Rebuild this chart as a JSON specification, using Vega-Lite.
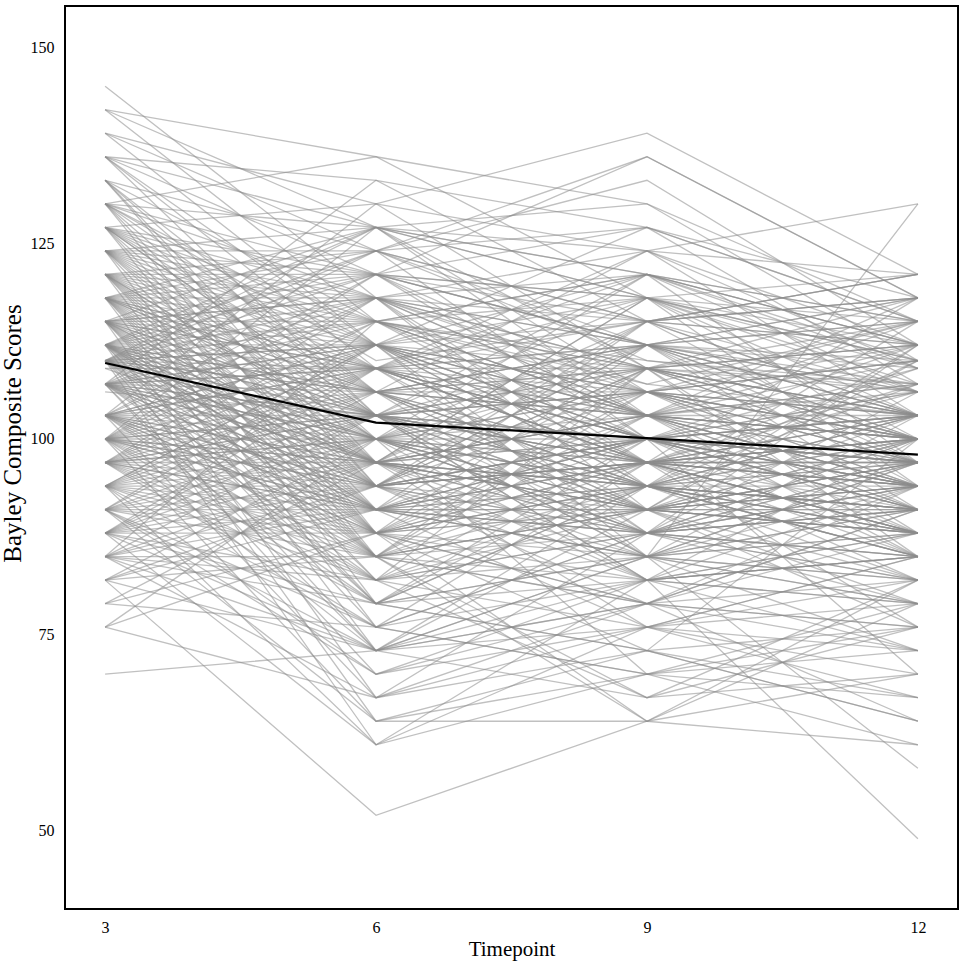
{
  "$schema": "https://vega.github.io/schema/vega-lite/v6.json",
  "width": 893,
  "height": 903,
  "autosize": {"type": "none"},
  "padding": {"left": 65, "top": 6, "right": 6, "bottom": 56},
  "background": "white",
  "config": {
    "view": {"stroke": "black", "strokeWidth": 2},
    "axis": {
      "ticks": false,
      "domain": false,
      "grid": false,
      "labelFont": "Liberation Serif",
      "labelFontSize": 16,
      "labelColor": "black",
      "titleFont": "Liberation Serif",
      "titleFontWeight": "normal",
      "titleColor": "black"
    }
  },
  "encoding": {
    "x": {
      "field": "key",
      "type": "ordinal",
      "scale": {"type": "point", "domain": ["a", "b", "c", "d"], "padding": 0.148},
      "axis": {
        "title": "Timepoint",
        "titleFontSize": 21,
        "titleBaseline": "alphabetic",
        "titleY": 46,
        "labelAngle": 0,
        "labelBaseline": "alphabetic",
        "labelPadding": 23,
        "labelExpr": "datum.value=='a'?'3':datum.value=='b'?'6':datum.value=='c'?'9':'12'"
      }
    },
    "y": {
      "field": "value",
      "type": "quantitative",
      "scale": {"domain": [40.05, 155.23], "nice": false, "zero": false},
      "axis": {
        "title": "Bayley Composite Scores",
        "titleFontSize": 25,
        "titleBaseline": "alphabetic",
        "titleAngle": -90,
        "titleAlign": "center",
        "titleX": -45,
        "titleY": 427,
        "values": [50, 75, 100, 125, 150],
        "labelPadding": 11,
        "labelBaseline": "middle"
      }
    }
  },
  "layer": [
    {
      "data": {"values": [
        {"s":1,"a":145,"b":118,"c":112,"d":103},
        {"s":2,"a":142,"b":136,"c":130,"d":115},
        {"s":3,"a":142,"b":127,"c":121,"d":110},
        {"s":4,"a":139,"b":130,"c":139,"d":121},
        {"s":5,"a":136,"b":121,"c":127,"d":118},
        {"s":6,"a":136,"b":112,"c":103,"d":100},
        {"s":7,"a":133,"b":124,"c":115,"d":112},
        {"s":8,"a":130,"b":136,"c":118,"d":107},
        {"s":9,"a":130,"b":110,"c":115,"d":121},
        {"s":10,"a":130,"b":127,"c":124,"d":130},
        {"s":11,"a":127,"b":115,"c":107,"d":103},
        {"s":12,"a":127,"b":103,"c":97,"d":94},
        {"s":13,"a":127,"b":121,"c":112,"d":118},
        {"s":14,"a":124,"b":112,"c":118,"d":110},
        {"s":15,"a":124,"b":97,"c":100,"d":97},
        {"s":16,"a":124,"b":118,"c":107,"d":115},
        {"s":17,"a":124,"b":106,"c":94,"d":91},
        {"s":18,"a":121,"b":115,"c":121,"d":112},
        {"s":19,"a":121,"b":100,"c":103,"d":100},
        {"s":20,"a":121,"b":124,"c":110,"d":107},
        {"s":21,"a":121,"b":88,"c":94,"d":97},
        {"s":22,"a":118,"b":109,"c":100,"d":103},
        {"s":23,"a":118,"b":121,"c":115,"d":118},
        {"s":24,"a":118,"b":94,"c":97,"d":88},
        {"s":25,"a":118,"b":112,"c":106,"d":100},
        {"s":26,"a":118,"b":103,"c":112,"d":110},
        {"s":27,"a":115,"b":118,"c":109,"d":112},
        {"s":28,"a":115,"b":97,"c":91,"d":94},
        {"s":29,"a":115,"b":106,"c":103,"d":97},
        {"s":30,"a":115,"b":127,"c":118,"d":115},
        {"s":31,"a":115,"b":91,"c":88,"d":85},
        {"s":32,"a":115,"b":109,"c":112,"d":107},
        {"s":33,"a":112,"b":100,"c":97,"d":100},
        {"s":34,"a":112,"b":115,"c":109,"d":103},
        {"s":35,"a":112,"b":85,"c":91,"d":94},
        {"s":36,"a":112,"b":103,"c":106,"d":112},
        {"s":37,"a":112,"b":94,"c":100,"d":91},
        {"s":38,"a":112,"b":121,"c":118,"d":110},
        {"s":39,"a":110,"b":106,"c":97,"d":100},
        {"s":40,"a":110,"b":97,"c":103,"d":94},
        {"s":41,"a":110,"b":112,"c":109,"d":107},
        {"s":42,"a":110,"b":79,"c":85,"d":88},
        {"s":43,"a":110,"b":103,"c":94,"d":97},
        {"s":44,"a":110,"b":118,"c":121,"d":115},
        {"s":45,"a":107,"b":100,"c":91,"d":94},
        {"s":46,"a":107,"b":94,"c":97,"d":100},
        {"s":47,"a":107,"b":109,"c":112,"d":103},
        {"s":48,"a":107,"b":88,"c":85,"d":82},
        {"s":49,"a":107,"b":115,"c":106,"d":110},
        {"s":50,"a":107,"b":97,"c":100,"d":97},
        {"s":51,"a":103,"b":103,"c":97,"d":94},
        {"s":52,"a":103,"b":91,"c":94,"d":91},
        {"s":53,"a":103,"b":109,"c":103,"d":107},
        {"s":54,"a":103,"b":82,"c":88,"d":85},
        {"s":55,"a":103,"b":112,"c":115,"d":112},
        {"s":56,"a":103,"b":97,"c":91,"d":97},
        {"s":57,"a":100,"b":94,"c":100,"d":103},
        {"s":58,"a":100,"b":106,"c":97,"d":94},
        {"s":59,"a":100,"b":85,"c":82,"d":88},
        {"s":60,"a":100,"b":100,"c":106,"d":100},
        {"s":61,"a":100,"b":73,"c":79,"d":82},
        {"s":62,"a":100,"b":115,"c":109,"d":97},
        {"s":63,"a":97,"b":91,"c":94,"d":91},
        {"s":64,"a":97,"b":103,"c":100,"d":103},
        {"s":65,"a":97,"b":79,"c":85,"d":79},
        {"s":66,"a":97,"b":97,"c":91,"d":94},
        {"s":67,"a":97,"b":109,"c":103,"d":100},
        {"s":68,"a":94,"b":88,"c":91,"d":88},
        {"s":69,"a":94,"b":100,"c":97,"d":97},
        {"s":70,"a":94,"b":70,"c":76,"d":73},
        {"s":71,"a":94,"b":94,"c":100,"d":91},
        {"s":72,"a":91,"b":85,"c":88,"d":94},
        {"s":73,"a":91,"b":97,"c":94,"d":85},
        {"s":74,"a":91,"b":64,"c":73,"d":76},
        {"s":75,"a":88,"b":82,"c":85,"d":82},
        {"s":76,"a":88,"b":94,"c":97,"d":88},
        {"s":77,"a":88,"b":61,"c":70,"d":67},
        {"s":78,"a":85,"b":79,"c":82,"d":85},
        {"s":79,"a":85,"b":91,"c":88,"d":79},
        {"s":80,"a":82,"b":73,"c":79,"d":76},
        {"s":81,"a":82,"b":52,"c":64,"d":61},
        {"s":82,"a":79,"b":76,"c":70,"d":73},
        {"s":83,"a":76,"b":67,"c":73,"d":64},
        {"s":84,"a":70,"b":73,"c":76,"d":79},
        {"s":85,"a":79,"b":88,"c":94,"d":91},
        {"s":86,"a":85,"b":103,"c":97,"d":100},
        {"s":87,"a":136,"b":127,"c":121,"d":112},
        {"s":88,"a":133,"b":115,"c":110,"d":106},
        {"s":89,"a":130,"b":121,"c":112,"d":103},
        {"s":90,"a":127,"b":109,"c":100,"d":97},
        {"s":91,"a":127,"b":130,"c":124,"d":121},
        {"s":92,"a":124,"b":115,"c":103,"d":100},
        {"s":93,"a":124,"b":103,"c":109,"d":106},
        {"s":94,"a":121,"b":109,"c":115,"d":103},
        {"s":95,"a":121,"b":97,"c":94,"d":91},
        {"s":96,"a":121,"b":112,"c":100,"d":97},
        {"s":97,"a":118,"b":106,"c":109,"d":112},
        {"s":98,"a":118,"b":118,"c":112,"d":106},
        {"s":99,"a":118,"b":100,"c":94,"d":100},
        {"s":100,"a":118,"b":88,"c":97,"d":94},
        {"s":101,"a":115,"b":112,"c":103,"d":97},
        {"s":102,"a":115,"b":103,"c":106,"d":100},
        {"s":103,"a":115,"b":94,"c":100,"d":103},
        {"s":104,"a":115,"b":115,"c":118,"d":106},
        {"s":105,"a":112,"b":109,"c":106,"d":103},
        {"s":106,"a":112,"b":97,"c":91,"d":88},
        {"s":107,"a":112,"b":106,"c":112,"d":100},
        {"s":108,"a":112,"b":91,"c":97,"d":94},
        {"s":109,"a":112,"b":124,"c":115,"d":118},
        {"s":110,"a":110,"b":109,"c":100,"d":91},
        {"s":111,"a":110,"b":94,"c":91,"d":97},
        {"s":112,"a":110,"b":100,"c":109,"d":103},
        {"s":113,"a":110,"b":115,"c":103,"d":106},
        {"s":114,"a":110,"b":85,"c":94,"d":88},
        {"s":115,"a":107,"b":103,"c":106,"d":97},
        {"s":116,"a":107,"b":112,"c":97,"d":100},
        {"s":117,"a":107,"b":91,"c":100,"d":94},
        {"s":118,"a":107,"b":100,"c":88,"d":91},
        {"s":119,"a":107,"b":118,"c":109,"d":112},
        {"s":120,"a":103,"b":97,"c":103,"d":100},
        {"s":121,"a":103,"b":106,"c":94,"d":88},
        {"s":122,"a":103,"b":88,"c":97,"d":103},
        {"s":123,"a":103,"b":112,"c":100,"d":94},
        {"s":124,"a":100,"b":103,"c":91,"d":97},
        {"s":125,"a":100,"b":91,"c":97,"d":88},
        {"s":126,"a":100,"b":109,"c":100,"d":106},
        {"s":127,"a":100,"b":82,"c":88,"d":91},
        {"s":128,"a":97,"b":100,"c":94,"d":100},
        {"s":129,"a":97,"b":88,"c":82,"d":85},
        {"s":130,"a":97,"b":112,"c":106,"d":97},
        {"s":131,"a":94,"b":97,"c":88,"d":91},
        {"s":132,"a":94,"b":82,"c":94,"d":85},
        {"s":133,"a":91,"b":100,"c":91,"d":88},
        {"s":134,"a":91,"b":76,"c":82,"d":79},
        {"s":135,"a":88,"b":91,"c":85,"d":88},
        {"s":136,"a":88,"b":103,"c":100,"d":94},
        {"s":137,"a":85,"b":85,"c":91,"d":82},
        {"s":138,"a":85,"b":73,"c":67,"d":70},
        {"s":139,"a":82,"b":94,"c":85,"d":91},
        {"s":140,"a":76,"b":88,"c":79,"d":76},
        {"s":141,"a":139,"b":124,"c":136,"d":118},
        {"s":142,"a":136,"b":133,"c":127,"d":115},
        {"s":143,"a":133,"b":106,"c":124,"d":109},
        {"s":144,"a":130,"b":118,"c":103,"d":112},
        {"s":145,"a":127,"b":112,"c":121,"d":106},
        {"s":146,"a":124,"b":127,"c":106,"d":103},
        {"s":147,"a":121,"b":103,"c":121,"d":115},
        {"s":148,"a":118,"b":124,"c":100,"d":109},
        {"s":149,"a":115,"b":100,"c":115,"d":118},
        {"s":150,"a":112,"b":118,"c":97,"d":106},
        {"s":151,"a":110,"b":121,"c":106,"d":100},
        {"s":152,"a":107,"b":85,"c":109,"d":103},
        {"s":153,"a":103,"b":118,"c":91,"d":97},
        {"s":154,"a":100,"b":112,"c":88,"d":85},
        {"s":155,"a":97,"b":106,"c":109,"d":103},
        {"s":156,"a":94,"b":106,"c":112,"d":100},
        {"s":157,"a":91,"b":109,"c":97,"d":97},
        {"s":158,"a":88,"b":100,"c":106,"d":91},
        {"s":159,"a":85,"b":97,"c":103,"d":94},
        {"s":160,"a":82,"b":91,"c":100,"d":97},
        {"s":161,"a":112,"b":79,"c":73,"d":64},
        {"s":162,"a":107,"b":73,"c":85,"d":58},
        {"s":163,"a":100,"b":64,"c":64,"d":70},
        {"s":164,"a":103,"b":67,"c":79,"d":73},
        {"s":165,"a":94,"b":61,"c":76,"d":67},
        {"s":166,"a":97,"b":76,"c":70,"d":61},
        {"s":167,"a":91,"b":70,"c":82,"d":49},
        {"s":168,"a":115,"b":82,"c":76,"d":82},
        {"s":169,"a":118,"b":85,"c":79,"d":88},
        {"s":170,"a":121,"b":91,"c":85,"d":79},
        {"s":171,"a":124,"b":94,"c":88,"d":82},
        {"s":172,"a":127,"b":97,"c":82,"d":85},
        {"s":173,"a":130,"b":100,"c":91,"d":76},
        {"s":174,"a":133,"b":103,"c":94,"d":88},
        {"s":175,"a":136,"b":109,"c":97,"d":91},
        {"s":176,"a":142,"b":115,"c":100,"d":94},
        {"s":177,"a":139,"b":112,"c":106,"d":97},
        {"s":178,"a":110,"b":127,"c":118,"d":121},
        {"s":179,"a":107,"b":124,"c":127,"d":115},
        {"s":180,"a":103,"b":121,"c":112,"d":118},
        {"s":181,"a":100,"b":118,"c":115,"d":121},
        {"s":182,"a":97,"b":115,"c":121,"d":112},
        {"s":183,"a":94,"b":109,"c":118,"d":109},
        {"s":184,"a":88,"b":106,"c":112,"d":115},
        {"s":185,"a":85,"b":115,"c":103,"d":110},
        {"s":186,"a":112,"b":106,"c":85,"d":130},
        {"s":187,"a":115,"b":109,"c":91,"d":103},
        {"s":188,"a":118,"b":103,"c":85,"d":91},
        {"s":189,"a":121,"b":106,"c":91,"d":88},
        {"s":190,"a":124,"b":100,"c":82,"d":85},
        {"s":191,"a":110,"b":88,"c":79,"d":94},
        {"s":192,"a":107,"b":94,"c":82,"d":100},
        {"s":193,"a":112,"b":88,"c":106,"d":110},
        {"s":194,"a":115,"b":85,"c":103,"d":107},
        {"s":195,"a":118,"b":91,"c":109,"d":100},
        {"s":196,"a":109,"b":97,"c":112,"d":106},
        {"s":197,"a":100,"b":121,"c":100,"d":94},
        {"s":198,"a":97,"b":103,"c":85,"d":97},
        {"s":199,"a":91,"b":94,"c":106,"d":103},
        {"s":200,"a":103,"b":94,"c":88,"d":106},
        {"s":201,"a":110,"b":112,"c":94,"d":85},
        {"s":202,"a":115,"b":97,"c":88,"d":112},
        {"s":203,"a":112,"b":94,"c":112,"d":91},
        {"s":204,"a":107,"b":106,"c":94,"d":110},
        {"s":205,"a":103,"b":100,"c":121,"d":97},
        {"s":206,"a":100,"b":97,"c":103,"d":115},
        {"s":207,"a":97,"b":94,"c":97,"d":107},
        {"s":208,"a":94,"b":91,"c":91,"d":110},
        {"s":209,"a":121,"b":121,"c":103,"d":94},
        {"s":210,"a":118,"b":115,"c":97,"d":97},
        {"s":211,"a":124,"b":121,"c":118,"d":112},
        {"s":212,"a":106,"b":103,"c":100,"d":85},
        {"s":213,"a":109,"b":109,"c":109,"d":88},
        {"s":214,"a":112,"b":112,"c":85,"d":103},
        {"s":215,"a":115,"b":118,"c":94,"d":91},
        {"s":216,"a":118,"b":97,"c":118,"d":103},
        {"s":217,"a":121,"b":94,"c":109,"d":100},
        {"s":218,"a":127,"b":103,"c":94,"d":107},
        {"s":219,"a":130,"b":106,"c":103,"d":103},
        {"s":220,"a":107,"b":109,"c":121,"d":109},
        {"s":221,"a":133,"b":94,"c":115,"d":97},
        {"s":222,"a":130,"b":88,"c":100,"d":112},
        {"s":223,"a":127,"b":85,"c":106,"d":94},
        {"s":224,"a":124,"b":79,"c":94,"d":103},
        {"s":225,"a":121,"b":76,"c":88,"d":91},
        {"s":226,"a":118,"b":73,"c":85,"d":97},
        {"s":227,"a":115,"b":67,"c":76,"d":85},
        {"s":228,"a":112,"b":64,"c":70,"d":79},
        {"s":229,"a":110,"b":61,"c":82,"d":88},
        {"s":230,"a":107,"b":82,"c":67,"d":76},
        {"s":231,"a":103,"b":85,"c":64,"d":82},
        {"s":232,"a":100,"b":79,"c":73,"d":100},
        {"s":233,"a":97,"b":82,"c":100,"d":70},
        {"s":234,"a":94,"b":76,"c":97,"d":103},
        {"s":235,"a":91,"b":73,"c":94,"d":94},
        {"s":236,"a":88,"b":79,"c":100,"d":106},
        {"s":237,"a":85,"b":82,"c":109,"d":97},
        {"s":238,"a":82,"b":85,"c":91,"d":112},
        {"s":239,"a":79,"b":97,"c":76,"d":85},
        {"s":240,"a":76,"b":100,"c":88,"d":94},
        {"s":241,"a":136,"b":103,"c":88,"d":100},
        {"s":242,"a":133,"b":97,"c":106,"d":115},
        {"s":243,"a":130,"b":94,"c":112,"d":94},
        {"s":244,"a":127,"b":91,"c":97,"d":103},
        {"s":245,"a":124,"b":88,"c":103,"d":85},
        {"s":246,"a":121,"b":85,"c":97,"d":109},
        {"s":247,"a":118,"b":82,"c":91,"d":100},
        {"s":248,"a":115,"b":79,"c":94,"d":88},
        {"s":249,"a":112,"b":76,"c":88,"d":97},
        {"s":250,"a":110,"b":73,"c":91,"d":79},
        {"s":251,"a":107,"b":70,"c":79,"d":91},
        {"s":252,"a":103,"b":79,"c":97,"d":85},
        {"s":253,"a":100,"b":88,"c":112,"d":97},
        {"s":254,"a":97,"b":85,"c":79,"d":91},
        {"s":255,"a":94,"b":103,"c":82,"d":94},
        {"s":256,"a":91,"b":112,"c":100,"d":88},
        {"s":257,"a":88,"b":109,"c":88,"d":97},
        {"s":258,"a":85,"b":94,"c":97,"d":76},
        {"s":259,"a":82,"b":100,"c":94,"d":103},
        {"s":260,"a":100,"b":127,"c":103,"d":91},
        {"s":261,"a":103,"b":130,"c":109,"d":100},
        {"s":262,"a":107,"b":133,"c":115,"d":106},
        {"s":263,"a":110,"b":124,"c":133,"d":112},
        {"s":264,"a":112,"b":127,"c":130,"d":110},
        {"s":265,"a":115,"b":121,"c":136,"d":118},
        {"s":266,"a":118,"b":127,"c":109,"d":115},
        {"s":267,"a":121,"b":118,"c":124,"d":103},
        {"s":268,"a":124,"b":124,"c":112,"d":109},
        {"s":269,"a":127,"b":118,"c":103,"d":118},
        {"s":270,"a":130,"b":112,"c":127,"d":107},
        {"s":271,"a":112,"b":103,"c":82,"d":79},
        {"s":272,"a":110,"b":97,"c":85,"d":73},
        {"s":273,"a":107,"b":91,"c":76,"d":70},
        {"s":274,"a":103,"b":88,"c":73,"d":67},
        {"s":275,"a":100,"b":94,"c":79,"d":64},
        {"s":276,"a":97,"b":100,"c":70,"d":76},
        {"s":277,"a":94,"b":85,"c":67,"d":82},
        {"s":278,"a":91,"b":88,"c":64,"d":79},
        {"s":279,"a":88,"b":73,"c":82,"d":73},
        {"s":280,"a":85,"b":67,"c":88,"d":82},
        {"s":281,"a":115,"b":103,"c":97,"d":118},
        {"s":282,"a":112,"b":100,"c":112,"d":115},
        {"s":283,"a":110,"b":91,"c":115,"d":121},
        {"s":284,"a":107,"b":97,"c":118,"d":100},
        {"s":285,"a":103,"b":109,"c":124,"d":112},
        {"s":286,"a":100,"b":103,"c":118,"d":94},
        {"s":287,"a":97,"b":118,"c":106,"d":110},
        {"s":288,"a":94,"b":112,"c":94,"d":115},
        {"s":289,"a":91,"b":103,"c":109,"d":118},
        {"s":290,"a":88,"b":97,"c":115,"d":103},
        {"s":291,"a":118,"b":109,"c":97,"d":82},
        {"s":292,"a":121,"b":100,"c":88,"d":94},
        {"s":293,"a":124,"b":109,"c":97,"d":88},
        {"s":294,"a":127,"b":106,"c":91,"d":91},
        {"s":295,"a":112,"b":97,"c":94,"d":85},
        {"s":296,"a":110,"b":100,"c":100,"d":91},
        {"s":297,"a":107,"b":103,"c":91,"d":88},
        {"s":298,"a":103,"b":91,"c":85,"d":94},
        {"s":299,"a":100,"b":97,"c":94,"d":82},
        {"s":300,"a":97,"b":91,"c":103,"d":88},
        {"s":301,"a":115,"b":88,"c":91,"d":91},
        {"s":302,"a":118,"b":106,"c":103,"d":94},
        {"s":303,"a":112,"b":91,"c":88,"d":100},
        {"s":304,"a":110,"b":106,"c":106,"d":94},
        {"s":305,"a":107,"b":112,"c":103,"d":91},
        {"s":306,"a":103,"b":94,"c":109,"d":85},
        {"s":307,"a":100,"b":91,"c":91,"d":100},
        {"s":308,"a":94,"b":112,"c":97,"d":88},
        {"s":309,"a":91,"b":91,"c":100,"d":97},
        {"s":310,"a":88,"b":88,"c":94,"d":103}
      ]},
      "transform": [{"fold": ["a", "b", "c", "d"]}],
      "mark": {"type": "line", "stroke": "#8c8c8c", "strokeOpacity": 0.55, "strokeWidth": 1.3},
      "encoding": {"detail": {"field": "s", "type": "nominal"}}
    },
    {
      "data": {"values": [
        {"key": "a", "value": 109.7},
        {"key": "b", "value": 102.1},
        {"key": "c", "value": 100.1},
        {"key": "d", "value": 98.0}
      ]},
      "mark": {"type": "line", "stroke": "black", "strokeWidth": 2.2},
      "encoding": {}
    }
  ]
}
